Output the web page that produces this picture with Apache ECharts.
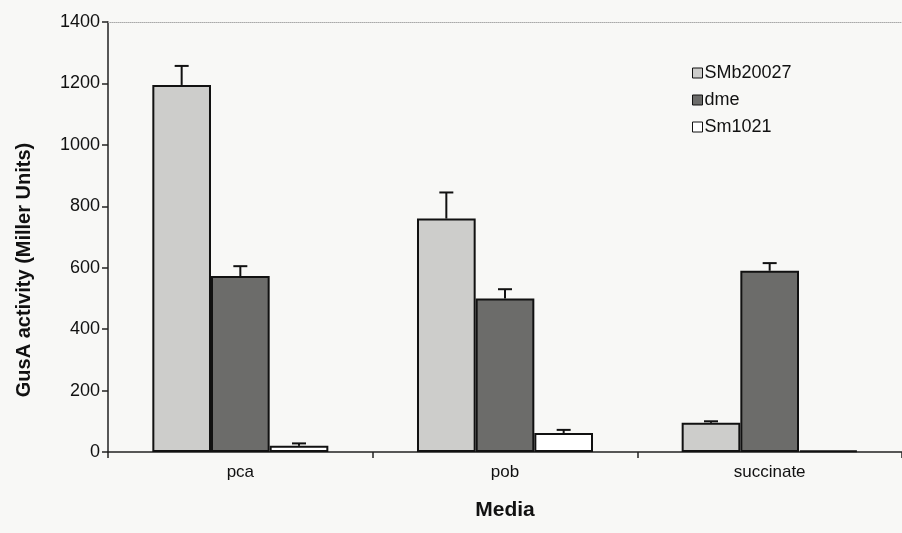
<!DOCTYPE html>
<html>
<head>
<meta charset="utf-8">
<script src="https://cdn.jsdelivr.net/npm/echarts@6/dist/echarts.min.js"></script>
<style>
  html, body { margin: 0; padding: 0; background: #f8f8f6; }
  #chart { width: 902px; height: 533px; }
</style>
</head>
<body>
<div id="chart"></div>
<script>
// GusA reporter activity per growth medium
const media = ['pca', 'pob', 'succinate'];
const strains = ['SMb20027', 'dme', 'Sm1021'];
const smb20027 = [1195, 760, 95];
const dme = [573, 500, 590];
const sm1021 = [20, 62, 5];
const smb20027Err = [62, 85, 5];
const dmeErr = [32, 30, 25];
const sm1021Err = [8, 10, 0];
const yTicks = [0, 200, 400, 600, 800, 1000, 1200, 1400];
const yTitle = 'GusA activity (Miller Units)';
const xTitle = 'Media';

const fills = ['#cdcdcb', '#6c6c6a', '#ffffff'];
const values = [smb20027, dme, sm1021];
const errors = [smb20027Err, dmeErr, sm1021Err];
const categoryGap = 0.335;

const chart = echarts.init(document.getElementById('chart'));
const font = 'Liberation Sans, Arial, sans-serif';

const barSeries = strains.map((name, i) => ({
  name: name,
  type: 'bar',
  data: values[i],
  barGap: '0%',
  barCategoryGap: (categoryGap * 100) + '%',
  itemStyle: { color: fills[i], borderColor: '#111', borderWidth: 2 },
  emphasis: { disabled: true },
  z: 2
}));

// Upward error bars with caps, centred over each bar of the group
const errorSeries = strains.map((name, i) => ({
  type: 'custom',
  name: name + ' error',
  data: values[i].map((v, k) => [k, v, v + errors[i][k]]),
  renderItem: function (params, api) {
    if (api.value(2) - api.value(1) <= 0) return null;
    const k = api.value(0);
    const base = api.coord([k, api.value(1)]);
    const top = api.coord([k, api.value(2)]);
    const band = api.size([1, 0])[0];
    const barW = band * (1 - categoryGap) / 3;
    const x = base[0] + (i - 1) * barW;
    const cap = 7;
    return {
      type: 'group',
      children: [
        { type: 'line', shape: { x1: x, y1: base[1], x2: x, y2: top[1] },
          style: { stroke: '#111', lineWidth: 2 } },
        { type: 'line', shape: { x1: x - cap, y1: top[1], x2: x + cap, y2: top[1] },
          style: { stroke: '#111', lineWidth: 2 } }
      ]
    };
  },
  z: 3,
  silent: true
}));

chart.setOption({
  backgroundColor: '#f8f8f6',
  animation: false,
  grid: { left: 108, right: -10, top: 22, bottom: 81 },
  graphic: [{
    type: 'text',
    x: 14,
    y: 270,
    rotation: Math.PI / 2,
    style: {
      text: yTitle,
      fontFamily: font,
      fontSize: 20,
      fontWeight: 'bold',
      fill: '#111',
      align: 'center',
      verticalAlign: 'top'
    }
  }],
  legend: {
    data: strains,
    orient: 'vertical',
    left: 687,
    top: 59,
    itemWidth: 10,
    itemHeight: 10,
    itemGap: 9,
    icon: 'rect',
    textStyle: { fontFamily: font, fontSize: 18, color: '#111', padding: [0, 0, 0, -3] },
    itemStyle: { borderColor: '#111', borderWidth: 1 }
  },
  xAxis: [{
    type: 'category',
    data: media,
    name: xTitle,
    nameLocation: 'middle',
    nameGap: 48,
    nameTextStyle: { fontFamily: font, fontSize: 21, fontWeight: 'bold', color: '#111' },
    axisLine: { lineStyle: { color: '#222', width: 1.5 } },
    axisTick: { show: true, length: 6, lineStyle: { color: '#222', width: 1.5 } },
    axisLabel: { fontFamily: font, fontSize: 17, color: '#111', margin: 12 }
  }, {
    type: 'category',
    data: media,
    position: 'top',
    axisLine: { show: true, lineStyle: { color: '#aaa', width: 1, type: [1, 1] } },
    axisTick: { show: false },
    axisLabel: { show: false }
  }],
  yAxis: {
    type: 'value',
    min: yTicks[0],
    max: yTicks[yTicks.length - 1],
    interval: yTicks[1] - yTicks[0],
    axisLine: { show: true, lineStyle: { color: '#222', width: 1.5 } },
    axisTick: { show: true, length: 6, lineStyle: { color: '#222', width: 1.5 } },
    axisLabel: {
      fontFamily: font, fontSize: 18, color: '#111', margin: 8,
      formatter: function (v) { return String(v); }
    },
    splitLine: { show: false }
  },
  series: barSeries.concat(errorSeries)
});
</script>
</body>
</html>
